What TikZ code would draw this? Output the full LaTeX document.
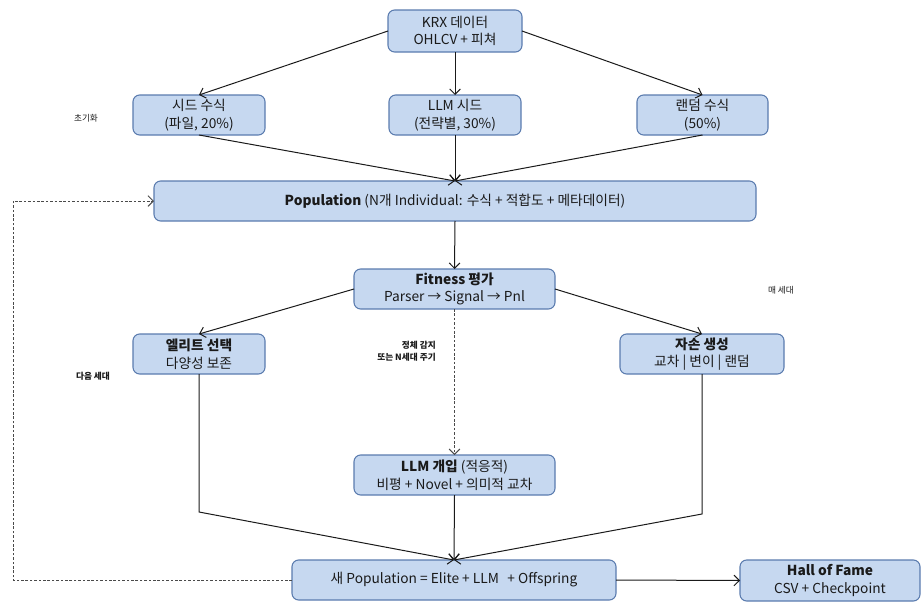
\documentclass[tikz,border=0pt]{standalone}
\usepackage{fontspec}
\setmainfont{Noto Sans CJK KR}
\usepackage{xcolor}
\usepackage{tikz}
\usetikzlibrary{arrows.meta,calc}
\definecolor{gaInk}{HTML}{1A1A1A}
\definecolor{gaEdge}{HTML}{5A7BAE}
\definecolor{gaFill}{HTML}{C6D8F0}
\definecolor{gaDash}{HTML}{4A4A4A}
\tikzset{
  % Blue step box
  gbox/.style={rectangle,rounded corners=5pt,
    inner sep=0pt,outer sep=0pt,minimum height=30pt,
    align=center,draw=gaEdge,fill=gaFill,line width=0.8pt,
    font=\fontsize{10.3}{13.2}\selectfont,text=gaInk},
  % Side note
  note/.style={font=\fontsize{6.5}{8.8}\selectfont,text=gaInk,inner sep=0pt},
  % Arrows
  arr/.style={-{Straight Barb[length=4pt,width=8pt]},line width=0.75pt,color=gaInk},
  arrd/.style={-{Straight Barb[length=4pt,width=8pt]},line width=0.75pt,
    dash pattern=on 2pt off 1.3pt,color=gaDash},
}
\begin{document}
\begin{tikzpicture}[x=0.75pt,y=-0.75pt]
  \useasboundingbox (0,0) rectangle (921,603);

  % init stage
  \node[gbox,minimum width=100.5pt,minimum height=31.5pt] (krx) at (455,31)
    {KRX 데이터\\OHLCV + 피쳐};
  \node[gbox,minimum width=99pt] (seed) at (199,115)
    {시드 수식\\(파일, 20\%)};
  \node[gbox,minimum width=99pt] (llmseed) at (455,115)
    {LLM 시드\\(전략별, 30\%)};
  \node[gbox,minimum width=98.25pt] (rand) at (702.5,115)
    {랜덤 수식\\(50\%)};

  \node[gbox,minimum width=451.5pt] (pop) at (455,201)
    {\textbf{Population} (N개 Individual: 수식 + 적합도 + 메타데이터)};

  % every generation
  \node[gbox,minimum width=150.75pt] (fit) at (454.5,289)
    {\textbf{Fitness 평가}\\Parser → Signal → Pnl};
  \node[gbox,minimum width=99pt] (elite) at (199,354)
    {\textbf{엘리트 선택}\\다양성 보존};
  \node[gbox,minimum width=123pt] (off) at (702,354)
    {\textbf{자손 생성}\\교차 | 변이 | 랜덤};
  \node[gbox,minimum width=150.75pt] (llm) at (454.5,475)
    {\textbf{LLM 개입} (적응적)\\비평 + Novel + 의미적 교차};

  \node[gbox,minimum width=243pt] (newpop) at (454,580)
    {새 Population = Elite + LLM \, + Offspring};
  \node[gbox,minimum width=135pt,minimum height=30.75pt] (hof) at (830,580.5)
    {\textbf{Hall of Fame}\\CSV + Checkpoint};

  % notes
  \node[note] (n1) at (86,118) {초기화};
  \node[note] (n2) at (781,290) {매 세대};
  \node[note,font=\fontsize{6.5}{8.8}\selectfont\bfseries] (n3) at (93,376) {다음 세대};
  \node[note,font=\fontsize{6.5}{8.8}\selectfont\bfseries,align=right,anchor=east] (n4)
    at (436,351) {정체 감지\\또는 N세대 주기};

  % bends
  \coordinate (eb) at (199,512);
  \coordinate (ob) at (702,514);
  \coordinate (lb) at (13,580);
  \coordinate (lt) at (13,201);

  \draw[arr] (krx.west) -- (seed.north);
  \draw[arr] (krx.east) -- (rand.north);
  \foreach \from/\to in {krx/llmseed,seed/pop,llmseed/pop,rand/pop,pop/fit,llm/newpop}
    \draw[arr] (\from.south) -- (\to.north);
  \draw[arr] (fit.west) -- (elite.north);
  \draw[arr] (fit.east) -- (off.north);
  \draw[arrd] (fit.south) -- (llm.north);
  \draw[arr] (elite.south) -- (eb) -- (newpop.north);
  \draw[arr] (off.south) -- (ob) -- (newpop.north);
  \draw[arr] (newpop.east) -- (hof.west);
  \draw[arrd] (newpop.west) -- (lb) -- (lt) -- (pop.west);

\end{tikzpicture}
\end{document}
